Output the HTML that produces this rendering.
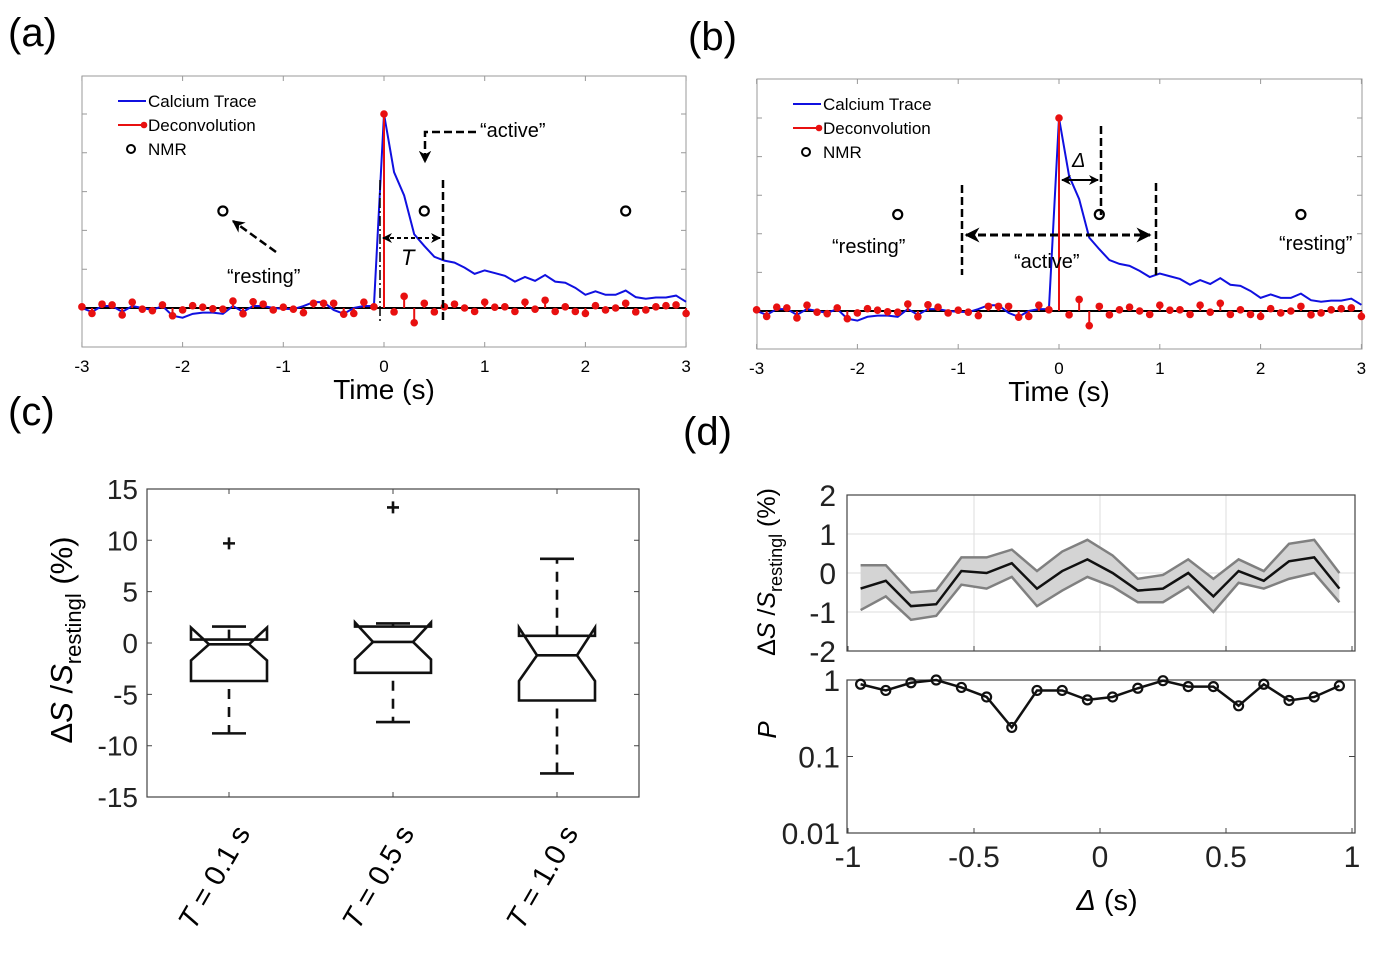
<!DOCTYPE html>
<html><head><meta charset="utf-8">
<style>
html,body{margin:0;padding:0;background:#fff;}
svg{display:block;font-family:"Liberation Sans",sans-serif;}
</style></head>
<body>
<svg id="fig" width="1400" height="980" viewBox="0 0 1400 980" xmlns="http://www.w3.org/2000/svg">
<defs>
<marker id="ah" viewBox="0 0 10 10" refX="9" refY="5" markerWidth="5" markerHeight="5" orient="auto-start-reverse"><path d="M0,0 L10,5 L0,10 L3,5 z" fill="#000"/></marker>
</defs>
<text x="8" y="46" font-size="40">(a)</text>
<text x="688" y="50" font-size="40">(b)</text>
<text x="8" y="425" font-size="40">(c)</text>
<text x="683" y="445" font-size="40">(d)</text>
<g id="gA"></g>
<g id="gB"></g>
<g id="gC"></g>
<g id="gD"></g>
</svg>
<script>
// ---------- data ----------
const traceTimes = [];
for (let i = 0; i <= 60; i++) traceTimes.push(-3 + i * 0.1);
const calciumTrace = [0,-0.1,0.05,0.05,-0.1,0.05,0,-0.05,0.05,-0.2,-0.25,-0.15,-0.12,-0.12,-0.15,0.05,-0.1,0.05,0.05,0,-0.02,-0.03,0.05,0.15,0.15,-0.05,-0.15,0,0.05,0.05,
 5,3.5,2.9,1.9,1.6,1.32,1.22,1.17,1.04,0.88,0.97,0.9,0.83,0.68,0.8,0.7,0.85,0.68,0.65,0.52,0.34,0.43,0.34,0.34,0.45,0.28,0.24,0.27,0.27,0.32,0.16];
const deconvolution = [0.03,-0.14,0.1,0.08,-0.18,0.15,-0.03,-0.07,0.08,-0.2,-0.05,0.06,0.02,-0.02,-0.03,0.18,-0.15,0.16,0.1,-0.05,0.02,-0.03,-0.12,0.12,0.12,0.12,-0.16,-0.14,0.15,0.03,
 5,-0.1,0.3,-0.38,0.12,-0.1,0.03,0.1,0,-0.09,0.15,0.02,0.03,-0.09,0.15,-0.03,0.2,-0.09,0.03,-0.09,-0.14,0.06,-0.05,0,0.12,-0.1,-0.05,0.03,0.06,0.08,-0.14];
const nmrTimes = [-1.6, 0.4, 2.4];
const nmrValues = [2.5, 2.5, 2.5];
const timeTicks = [-3,-2,-1,0,1,2,3];

const boxCategories = ["0.1","0.5","1.0"];
const boxQ1 = [-3.7,-2.9,-5.6];
const boxQ3 = [0.33,1.6,0.7];
const boxMedian = [-0.13,0.1,-1.2];
const boxNotchLow = [-1.7,-1.6,-3.7];
const boxNotchHigh = [1.5,2.0,1.5];
const boxWhiskLow = [-8.8,-7.7,-12.7];
const boxWhiskHigh = [1.6,1.9,8.2];
const boxOutliers = [9.7,13.2,null];
const cTicks = [15,10,5,0,-5,-10,-15];

const deltaValues = [-0.95,-0.85,-0.75,-0.65,-0.55,-0.45,-0.35,-0.25,-0.15,-0.05,0.05,0.15,0.25,0.35,0.45,0.55,0.65,0.75,0.85,0.95];
const meanChange = [-0.4,-0.2,-0.85,-0.8,0.05,0,0.25,-0.4,0.05,0.35,0,-0.45,-0.4,0,-0.6,0.05,-0.2,0.3,0.4,-0.4];
const upperBand = [0.2,0.2,-0.5,-0.45,0.4,0.4,0.6,0.05,0.55,0.85,0.45,-0.15,-0.05,0.35,-0.15,0.35,0.05,0.75,0.85,0.0];
const lowerBand = [-0.95,-0.6,-1.2,-1.1,-0.3,-0.4,-0.1,-0.85,-0.45,-0.1,-0.35,-0.75,-0.75,-0.35,-1.0,-0.25,-0.4,-0.15,0,-0.75];
const pValues = [0.88,0.73,0.92,1.0,0.8,0.6,0.24,0.73,0.73,0.55,0.6,0.78,0.98,0.82,0.82,0.46,0.88,0.54,0.6,0.84];
const dTicksX = [-1,-0.5,0,0.5,1];
const dTicksXLabels = ["-1","-0.5","0","0.5","1"];
const dTicksY = [2,1,0,-1,-2];
const dTicksP = [1,0.1,0.01];
const dTicksPLabels = ["1","0.1","0.01"];

// ---------- helpers ----------
const NS = "http://www.w3.org/2000/svg";
function mk(parent, tag, attrs, text) {
  const e = document.createElementNS(NS, tag);
  for (const k in attrs) e.setAttribute(k, attrs[k]);
  if (text !== undefined) e.textContent = text;
  parent.appendChild(e);
  return e;
}

// ---------- panels a & b ----------
function tracePanel(g, cfg) {
  const X = t => cfg.x0 + t * cfg.sx;
  const Y = v => cfg.y0 - v * cfg.sy;
  let e = mk(g, "rect", {x: cfg.L, y: cfg.T, width: cfg.R - cfg.L, height: cfg.B - cfg.T, fill: "none", stroke: "#999", "stroke-width": 1});
  
  
  for (let v = 0; v <= 5; v++) {
    e = mk(g, "path", {d: `M${cfg.L},${Y(v)}h5M${cfg.R},${Y(v)}h-5`, stroke: "#999"});
    
    
  }
  timeTicks.forEach(t => {
    e = mk(g, "path", {d: `M${X(t)},${cfg.B}v-5M${X(t)},${cfg.T}v5`, stroke: "#999"});
    
    
    e = mk(g, "text", {x: X(t), y: cfg.B + 25, "font-size": 17, "text-anchor": "middle"}, String(t));
    
    
  });
  e = mk(g, "text", {x: X(0), y: cfg.B + 52, "font-size": 28, "text-anchor": "middle"}, "Time (s)");
  
  
  e = mk(g, "line", {x1: cfg.L, x2: cfg.R, y1: Y(0), y2: Y(0), stroke: "#000", "stroke-width": 2});
  
  
  e = mk(g, "polyline", {points: traceTimes.map((t, i) => X(t) + "," + Y(calciumTrace[i])).join(" "), fill: "none", stroke: "#1010e0", "stroke-width": 2});
  
  
  traceTimes.forEach((t, i) => {
    const s = mk(g, "line", {x1: X(t), x2: X(t), y1: Y(0), y2: Y(deconvolution[i]), stroke: "#e81010", "stroke-width": 2});
    
    
    const c = mk(g, "circle", {cx: X(t), cy: Y(deconvolution[i]), r: 3.8, fill: "#e81010"});
    
    
  });
  nmrTimes.forEach((t, i) => {
    const c = mk(g, "circle", {cx: X(t), cy: Y(nmrValues[i]), r: 4.5, fill: "none", stroke: "#000", "stroke-width": 2.2});
    
    
  });
  const lx = cfg.L + 36, ly = cfg.T + 25;
  e = mk(g, "line", {x1: lx, x2: lx + 28, y1: ly, y2: ly, stroke: "#1010e0", "stroke-width": 2});
  
  
  e = mk(g, "text", {x: lx + 30, y: ly + 6, "font-size": 17}, "Calcium Trace");
  
  
  e = mk(g, "line", {x1: lx, x2: lx + 26, y1: ly + 24, y2: ly + 24, stroke: "#e81010", "stroke-width": 2});
  
  
  e = mk(g, "circle", {cx: lx + 26, cy: ly + 24, r: 3.3, fill: "#e81010"});
  
  
  e = mk(g, "text", {x: lx + 30, y: ly + 30, "font-size": 17}, "Deconvolution");
  
  
  e = mk(g, "circle", {cx: lx + 13, cy: ly + 48, r: 4, fill: "none", stroke: "#000", "stroke-width": 2});
  
  
  e = mk(g, "text", {x: lx + 30, y: ly + 54, "font-size": 17}, "NMR");
  
  
}

const gA = document.getElementById("gA");
tracePanel(gA, {L: 82, R: 686, T: 76, B: 347, x0: 384, sx: 100.7, y0: 308, sy: 38.8});
const gB = document.getElementById("gB");
tracePanel(gB, {L: 757, R: 1362, T: 79, B: 349, x0: 1059, sx: 100.8, y0: 311, sy: 38.6});

function ann(g, name, tag, attrs, text) {
  const e = mk(g, tag, attrs, text);
  
  
  return e;
}
const dash = {stroke: "#000", "stroke-width": 2.5, "stroke-dasharray": "8,4", fill: "none"};
ann(gA, "window-start-line", "line", Object.assign({x1: 380, x2: 380, y1: 180, y2: 322}, dash, {"stroke-width": 1.5, "stroke-dasharray": "10,3,2,3"}));
ann(gA, "window-end-line", "line", Object.assign({x1: 443, x2: 443, y1: 180, y2: 322}, dash));
ann(gA, "T-arrow", "line", Object.assign({x1: 383, x2: 440, y1: 238, y2: 238, "marker-start": "url(#ah)", "marker-end": "url(#ah)"}, dash, {"stroke-width": 2, "stroke-dasharray": "4,3"}));
ann(gA, "T-label", "text", {x: 401, y: 265, "font-size": 22, "font-style": "italic"}, "T");
ann(gA, "active-arrow", "path", Object.assign({d: "M476,132 H425 V162", "marker-end": "url(#ah)"}, dash));
ann(gA, "active-label", "text", {x: 480, y: 137, "font-size": 20}, "\u201Cactive\u201D");
ann(gA, "resting-arrow", "line", Object.assign({x1: 276, y1: 252, x2: 233, y2: 221, "marker-end": "url(#ah)"}, dash));
ann(gA, "resting-label", "text", {x: 227, y: 283, "font-size": 20}, "\u201Cresting\u201D");
ann(gB, "active-window-start", "line", Object.assign({x1: 962, x2: 962, y1: 185, y2: 275}, dash));
ann(gB, "active-window-end", "line", Object.assign({x1: 1156, x2: 1156, y1: 183, y2: 275}, dash));
ann(gB, "delta-line", "line", Object.assign({x1: 1101, x2: 1101, y1: 126, y2: 215}, dash));
ann(gB, "active-window-arrow", "line", Object.assign({x1: 966, x2: 1150, y1: 235, y2: 235, "marker-start": "url(#ah)", "marker-end": "url(#ah)"}, dash, {"stroke-width": 3}));
ann(gB, "delta-arrow", "line", {x1: 1062, x2: 1098, y1: 180, y2: 180, stroke: "#000", "stroke-width": 2, "marker-start": "url(#ah)", "marker-end": "url(#ah)"});
ann(gB, "delta-label", "text", {x: 1072, y: 167, "font-size": 20, "font-style": "italic"}, "\u0394");
ann(gB, "active-label", "text", {x: 1014, y: 268, "font-size": 20}, "\u201Cactive\u201D");
ann(gB, "resting-label-left", "text", {x: 832, y: 253, "font-size": 20}, "\u201Cresting\u201D");
ann(gB, "resting-label-right", "text", {x: 1279, y: 250, "font-size": 20}, "\u201Cresting\u201D");

// ---------- panel c ----------
const gC = document.getElementById("gC");
const cL = 147, cR = 639, cT = 489, cB = 797;
const cY = v => 643 - v * 10.27;
const cX = i => 229 + i * 164;
let e = mk(gC, "rect", {x: cL, y: cT, width: cR - cL, height: cB - cT, fill: "none", stroke: "#444", "stroke-width": 1.2});


cTicks.forEach(v => {
  const t = mk(gC, "path", {d: `M${cL},${cY(v)}h5M${cR},${cY(v)}h-5`, stroke: "#444"});
  
  
  const l = mk(gC, "text", {x: 138, y: cY(v) + 10, "font-size": 28, "text-anchor": "end", fill: "#222"}, String(v));
  
  
});
e = mk(gC, "text", {transform: "translate(72,640) rotate(-90)", "font-size": 31, "text-anchor": "middle"});


e.innerHTML = '\u0394<tspan font-style="italic">S</tspan> /<tspan font-style="italic">S</tspan><tspan font-size="22" dy="9">restingl</tspan><tspan dy="-9"> (%)</tspan>';
boxCategories.forEach((c, i) => {
  const x = cX(i), L = x - 38, R = x + 38, Lw = x - 20, Rw = x + 20;
  const t = mk(gC, "path", {d: `M${x},${cB}v-5M${x},${cT}v5`, stroke: "#444"});
  
  
  const st = {stroke: "#111", "stroke-width": 2.6, fill: "none"};
  let p = mk(gC, "polygon", Object.assign({points: [[L, boxQ1[i]], [L, boxNotchLow[i]], [Lw, boxMedian[i]], [L, boxNotchHigh[i]], [L, boxQ3[i]], [R, boxQ3[i]], [R, boxNotchHigh[i]], [Rw, boxMedian[i]], [R, boxNotchLow[i]], [R, boxQ1[i]]].map(q => q[0] + "," + cY(q[1])).join(" ")}, st));
  
  
  p = mk(gC, "line", Object.assign({x1: Lw, x2: Rw, y1: cY(boxMedian[i]), y2: cY(boxMedian[i])}, st));
  
  
  p = mk(gC, "line", Object.assign({x1: x, x2: x, y1: cY(boxQ3[i]), y2: cY(boxWhiskHigh[i])}, st, {"stroke-dasharray": "10,8"}));
  
  
  p = mk(gC, "line", Object.assign({x1: x, x2: x, y1: cY(boxQ1[i]) + 8, y2: cY(boxWhiskLow[i])}, st, {"stroke-dasharray": "10,8"}));
  
  
  p = mk(gC, "line", Object.assign({x1: x - 17, x2: x + 17, y1: cY(boxWhiskHigh[i]), y2: cY(boxWhiskHigh[i])}, st));
  
  
  p = mk(gC, "line", Object.assign({x1: x - 17, x2: x + 17, y1: cY(boxWhiskLow[i]), y2: cY(boxWhiskLow[i])}, st));
  
  
  if (boxOutliers[i] !== null) {
    p = mk(gC, "path", {d: `M${x - 6},${cY(boxOutliers[i])}h12M${x},${cY(boxOutliers[i]) - 6}v12`, stroke: "#111", "stroke-width": 2.6});
    
    
  }
  const lab = mk(gC, "text", {transform: `translate(${x + 22},${cB + 36}) rotate(-60)`, "font-size": 29, "text-anchor": "end"});
  
  
  lab.innerHTML = '<tspan font-style="italic">T</tspan> = ' + c + ' s';
});

// ---------- panel d ----------
const gD = document.getElementById("gD");
const dL = 847, dR = 1355, uT = 495, uB = 651, lT = 680, lB = 833;
const dX = v => 1100 + v * 252;
const uY = v => 573 - v * 39;
const pY = v => lT + (-Math.log10(v)) * ((lB - lT) / 2);
[-0.5, 0, 0.5].forEach(v => {
  const g = mk(gD, "line", {x1: dX(v), x2: dX(v), y1: uT, y2: uB, stroke: "#ddd", "stroke-width": 1});
  
  
});
[1, 0, -1].forEach(v => {
  const g = mk(gD, "line", {x1: dL, x2: dR, y1: uY(v), y2: uY(v), stroke: "#ddd", "stroke-width": 1});
  
  
});
e = mk(gD, "polygon", {points: deltaValues.map((d, i) => dX(d) + "," + uY(upperBand[i])).concat(deltaValues.map((d, i) => dX(d) + "," + uY(lowerBand[i])).reverse()).join(" "), fill: "#d4d4d4", stroke: "none"});


e = mk(gD, "polyline", {points: deltaValues.map((d, i) => dX(d) + "," + uY(upperBand[i])).join(" "), fill: "none", stroke: "#808080", "stroke-width": 2.5});


e = mk(gD, "polyline", {points: deltaValues.map((d, i) => dX(d) + "," + uY(lowerBand[i])).join(" "), fill: "none", stroke: "#808080", "stroke-width": 2.5});


e = mk(gD, "polyline", {points: deltaValues.map((d, i) => dX(d) + "," + uY(meanChange[i])).join(" "), fill: "none", stroke: "#111", "stroke-width": 2.5});


e = mk(gD, "rect", {x: dL, y: uT, width: dR - dL, height: uB - uT, fill: "none", stroke: "#444", "stroke-width": 1.2});


dTicksY.forEach(v => {
  const l = mk(gD, "text", {x: 836, y: uY(v) + 11, "font-size": 30, "text-anchor": "end", fill: "#222"}, String(v));
  
  
});
e = mk(gD, "text", {transform: "translate(775,572) rotate(-90)", "font-size": 25, "text-anchor": "middle"});


e.innerHTML = '\u0394<tspan font-style="italic">S</tspan> /<tspan font-style="italic">S</tspan><tspan font-size="18" dy="7">restingl</tspan><tspan dy="-7"> (%)</tspan>';
e = mk(gD, "rect", {x: dL, y: lT, width: dR - dL, height: lB - lT, fill: "none", stroke: "#444", "stroke-width": 1.2});


dTicksP.forEach((v, i) => {
  const t = mk(gD, "path", {d: `M${dL},${pY(v)}h6M${dR},${pY(v)}h-6`, stroke: "#444"});
  
  
  const l = mk(gD, "text", {x: 840, y: pY(v) + 11, "font-size": 30, "text-anchor": "end", fill: "#222"}, dTicksPLabels[i]);
  
  
});
e = mk(gD, "polyline", {points: deltaValues.map((d, i) => dX(d) + "," + pY(pValues[i])).join(" "), fill: "none", stroke: "#111", "stroke-width": 2.5});


deltaValues.forEach((d, i) => {
  const c = mk(gD, "circle", {cx: dX(d), cy: pY(pValues[i]), r: 4.5, fill: "none", stroke: "#111", "stroke-width": 2.2});
  
  
});
dTicksX.forEach((v, i) => {
  const t = mk(gD, "path", {d: `M${dX(v)},${lB}v-5M${dX(v)},${uB}v-5`, stroke: "#444"});
  
  
  const l = mk(gD, "text", {x: dX(v), y: 867, "font-size": 30, "text-anchor": "middle", fill: "#222"}, dTicksXLabels[i]);
  
  
});
e = mk(gD, "text", {x: 768, y: 738, "font-size": 26, "font-style": "italic", transform: "rotate(-90 768 730)", "text-anchor": "middle"}, "P");


e = mk(gD, "text", {x: 1107, y: 910, "font-size": 29, "text-anchor": "middle"});


e.innerHTML = '<tspan font-style="italic">\u0394</tspan> (s)';
</script>
</body></html>
